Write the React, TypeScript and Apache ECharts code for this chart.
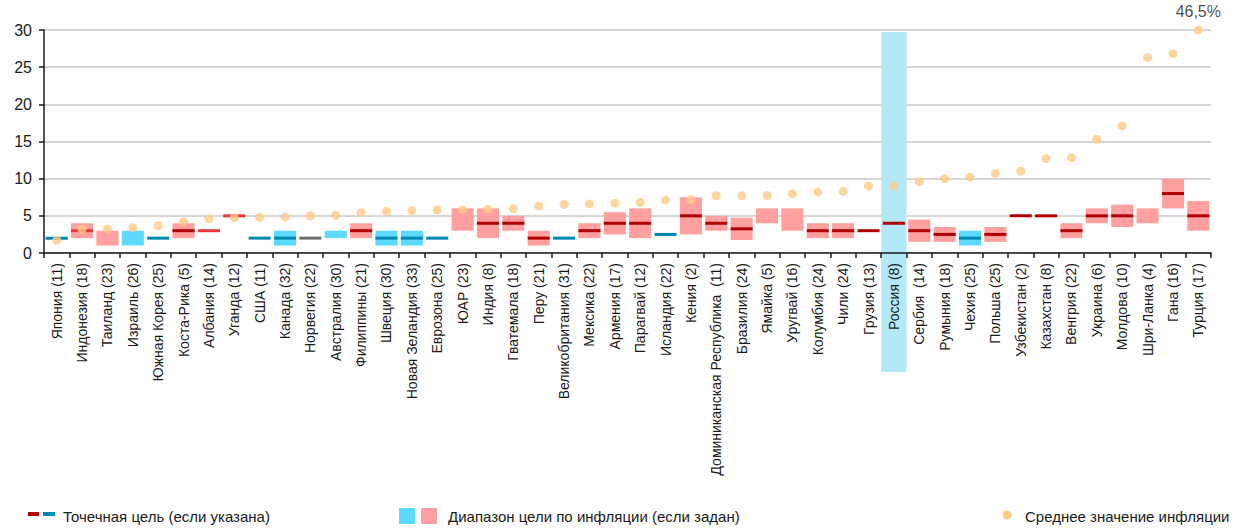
import React, { useEffect, useRef } from "react";
import * as echarts from "echarts";

const countries = [
  "Япония (11)", "Индонезия (18)", "Таиланд (23)", "Израиль (26)", "Южная Корея (25)",
  "Коста-Рика (5)", "Албания (14)", "Уганда (12)", "США (11)", "Канада (32)",
  "Норвегия (22)", "Австралия (30)", "Филиппины (21)", "Швеция (30)", "Новая Зеландия (33)",
  "Еврозона (25)", "ЮАР (23)", "Индия (8)", "Гватемала (18)", "Перу (21)",
  "Великобритания (31)", "Мексика (22)", "Армения (17)", "Парагвай (12)", "Исландия (22)",
  "Кения (2)", "Доминиканская Республика  (11)", "Бразилия (24)", "Ямайка (5)", "Уругвай (16)",
  "Колумбия (24)", "Чили (24)", "Грузия (13)", "Россия (8)", "Сербия  (14)",
  "Румыния (18)", "Чехия (25)", "Польша (25)", "Узбекистан (2)", "Казахстан (8)",
  "Венгрия (22)", "Украина (6)", "Молдова (10)", "Шри-Ланка (4)", "Гана (16)", "Турция (17)",
];

const avgInflation = [
  1.7, 3.2, 3.2, 3.4, 3.7, 4.2, 4.6, 4.75, 4.8, 4.85,
  5.0, 5.07, 5.4, 5.6, 5.7, 5.8, 5.8, 5.9, 5.95, 6.3,
  6.55, 6.6, 6.7, 6.8, 7.1, 7.2, 7.7, 7.7, 7.75, 8.0,
  8.2, 8.3, 9.0, 9.06, 9.6, 10.0, 10.2, 10.7, 11.0, 12.7,
  12.8, 15.3, 17.1, 26.3, 26.8, 46.5,
];

// target range: low, high (null = none), kind: p = pink, c = cyan
const rangeLow = [
  null, 2, 1, 1, null, 2, null, null, null, 1,
  null, 2, 2, 1, 1, null, 3, 2, 3, 1,
  null, 2, 2.5, 2, null, 2.5, 3, 1.75, 4, 3,
  2, 2, null, null, 1.5, 1.5, 1, 1.5, null, null,
  2, 4, 3.5, 4, 6, 3,
];
const rangeHigh = [
  null, 4, 3, 3, null, 4, null, null, null, 3,
  null, 3, 4, 3, 3, null, 6, 6, 5, 3,
  null, 4, 5.5, 6, null, 7.5, 5, 4.75, 6, 6,
  4, 4, null, null, 4.5, 3.5, 3, 3.5, null, null,
  4, 6, 6.5, 6, 10, 7,
];
const rangeKind = [
  "", "p", "p", "c", "", "p", "", "", "", "c",
  "", "c", "p", "c", "c", "", "p", "p", "p", "p",
  "", "p", "p", "p", "", "p", "p", "p", "p", "p",
  "p", "p", "", "", "p", "p", "c", "p", "", "",
  "p", "p", "p", "p", "p", "p",
];

// point target: value (null = none), kind: r = dark red, R = red, b = blue, g = grey
const pointTarget = [
  2, 3, null, null, 2, 3, 3, 5, 2, 2,
  2, null, 3, 2, 2, 2, null, 4, 4, 2,
  2, 3, 4, 4, 2.5, 5, 4, 3.25, null, null,
  3, 3, 3, 4, 3, 2.5, 2, 2.5, 5, 5,
  3, 5, 5, null, 8, 5,
];
const pointKind = [
  "b", "R", "", "", "b", "r", "R", "R", "b", "b",
  "g", "", "r", "b", "b", "b", "", "r", "r", "r",
  "b", "r", "r", "r", "b", "r", "r", "r", "", "",
  "r", "r", "r", "r", "r", "r", "b", "r", "r", "r",
  "r", "r", "r", "", "r", "r",
];

const highlighted = ["Россия (8)"];

const yMin = 0;
const yMax = 30;
const yInterval = 5;

const legendPoint = "Точечная цель (если указана)";
const legendRange = "Диапазон цели по инфляции (если задан)";
const legendAvg = "Среднее значение инфляции";

const FONT = "'Liberation Sans', Arial, sans-serif";
const C = {
  pink: "#FFA0A0",
  cyan: "#5CD9FF",
  band: "#B3E9F7",
  darkRed: "#B00000",
  red: "#E43A3A",
  blue: "#0088B0",
  grey: "#6E6E6E",
  dot: "#FFCB87",
  text: "#1A1A1A",
  grid: "#C8C8C8",
};
const pointColor: Record<string, string> = { r: C.darkRed, R: C.red, b: C.blue, g: C.grey };

export default function App() {
  const ref = useRef<HTMLDivElement>(null);

  useEffect(() => {
    if (!ref.current) return;
    const chart = echarts.init(ref.current, null, { renderer: "svg" });

    const rangeData: any[] = [];
    rangeLow.forEach((lo, i) => {
      const hi = rangeHigh[i];
      if (lo != null && hi != null) rangeData.push([i, lo, hi, rangeKind[i] === "c" ? 1 : 0]);
    });
    const pointData: any[] = [];
    pointTarget.forEach((v, i) => {
      if (v != null) pointData.push([i, v, pointKind[i]]);
    });
    const bandData = highlighted.map((n) => [countries.indexOf(n)]);

    const scatterData = avgInflation.map((v) =>
      v > yMax
        ? {
            value: yMax,
            label: {
              show: true,
              position: "top",
              distance: 6,
              formatter: String(v).replace(".", ",") + "%",
              fontSize: 16,
              fontFamily: FONT,
              color: C.text,
            },
          }
        : v
    );

    chart.setOption({
      animation: false,
      grid: { left: 44, right: 25, top: 30, bottom: 275, containLabel: false },
      xAxis: {
        type: "category",
        data: countries,
        z: 5,
        axisLine: { lineStyle: { color: C.text, width: 1.5 } },
        axisTick: { show: true, length: 5, lineStyle: { color: C.text, width: 1.5 } },
        axisLabel: {
          interval: 0,
          rotate: 90,
          margin: 10,
          fontSize: 14,
          fontFamily: FONT,
          color: C.text,
        },
      },
      yAxis: {
        type: "value",
        min: yMin,
        max: yMax,
        interval: yInterval,
        z: 0,
        axisLine: { show: true, lineStyle: { color: C.text, width: 1.5 } },
        axisTick: { show: true, length: 5, lineStyle: { color: C.text, width: 1.5 } },
        axisLabel: { fontSize: 16, fontFamily: FONT, color: C.text, margin: 12 },
        splitLine: { lineStyle: { color: C.grid, width: 1.5 } },
      },
      series: [
        {
          type: "custom",
          z: 1,
          clip: false,
          data: bandData,
          encode: { x: 0 },
          renderItem: (params: any, api: any) => {
            const top = api.coord([api.value(0), yMax]);
            const bot = api.coord([api.value(0), yMin]);
            const w = api.size([1, 0])[0];
            return {
              type: "rect",
              shape: { x: top[0] - w / 2, y: top[1] + 2, width: w, height: bot[1] - top[1] + 117 },
              style: { fill: C.band },
            };
          },
        },
        {
          type: "custom",
          z: 2,
          data: rangeData,
          encode: { x: 0, y: [1, 2] },
          renderItem: (params: any, api: any) => {
            const lo = api.coord([api.value(0), api.value(1)]);
            const hi = api.coord([api.value(0), api.value(2)]);
            const w = api.size([1, 0])[0] * 0.87;
            return {
              type: "rect",
              shape: { x: lo[0] - w / 2, y: hi[1], width: w, height: lo[1] - hi[1] },
              style: { fill: api.value(3) === 1 ? C.cyan : C.pink },
            };
          },
        },
        {
          type: "custom",
          z: 3,
          data: pointData,
          encode: { x: 0, y: 1 },
          renderItem: (params: any, api: any) => {
            const p = api.coord([api.value(0), api.value(1)]);
            const w = api.size([1, 0])[0] * 0.87;
            const k = pointData[params.dataIndex][2];
            return {
              type: "rect",
              shape: { x: p[0] - w / 2, y: p[1] - 1.5, width: w, height: 3 },
              style: { fill: pointColor[k] },
            };
          },
        },
        {
          type: "scatter",
          z: 4,
          symbol: "circle",
          symbolSize: 9,
          itemStyle: { color: C.dot },
          data: scatterData,
        },
      ],
      graphic: [
        { type: "rect", shape: { x: 28, y: 512, width: 11, height: 4 }, style: { fill: C.darkRed } },
        { type: "rect", shape: { x: 43, y: 512, width: 12, height: 4 }, style: { fill: C.blue } },
        {
          type: "text",
          x: 63,
          y: 516,
          style: { text: legendPoint, fontSize: 15, fontFamily: FONT, fill: C.text, verticalAlign: "middle" },
        },
        { type: "rect", shape: { x: 399, y: 508, width: 16, height: 16 }, style: { fill: C.cyan } },
        { type: "rect", shape: { x: 421, y: 508, width: 16, height: 16 }, style: { fill: C.pink } },
        {
          type: "text",
          x: 448,
          y: 516,
          style: { text: legendRange, fontSize: 15, fontFamily: FONT, fill: C.text, verticalAlign: "middle" },
        },
        { type: "circle", shape: { cx: 1007, cy: 515, r: 4.5 }, style: { fill: C.dot } },
        {
          type: "text",
          x: 1025,
          y: 516,
          style: { text: legendAvg, fontSize: 15, fontFamily: FONT, fill: C.text, verticalAlign: "middle" },
        },
      ],
    });

    return () => chart.dispose();
  }, []);

  return (
    <div
      ref={ref}
      style={{ position: "absolute", left: 0, top: 0, width: 1236, height: 528 }}
    />
  );
}
